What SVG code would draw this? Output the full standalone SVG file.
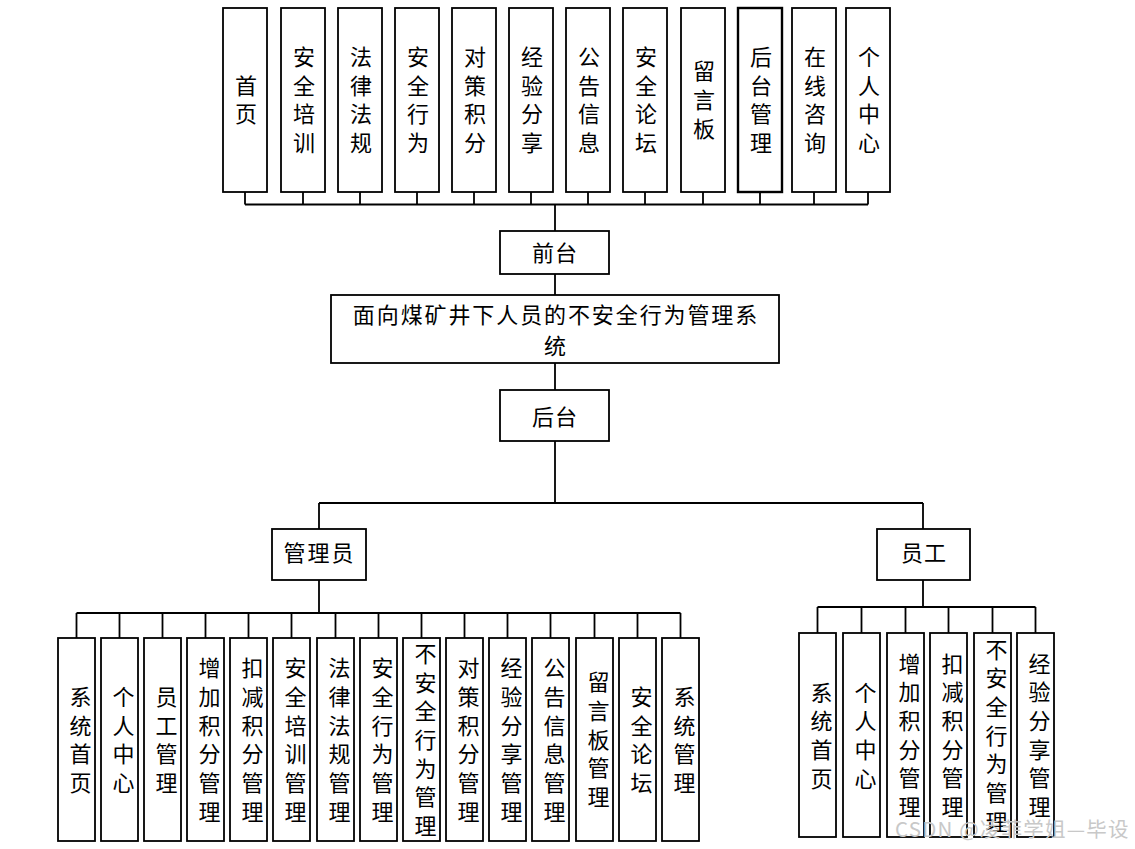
<svg xmlns="http://www.w3.org/2000/svg" width="1135" height="849" viewBox="0 0 1135 849">
<style>
rect{fill:#fff;stroke:#000;stroke-width:1.8}
text{font-family:"Noto Sans CJK SC","Noto Sans",sans-serif;font-size:22px;fill:#000;text-anchor:middle}
.c{fill:none;stroke:#000;stroke-width:1.8}
.wm{font-size:20.5px;fill:#c8c8c8;text-anchor:start;letter-spacing:1.2px}
</style>
<rect x="0" y="0" width="1135" height="849" style="stroke:none"/>
<g id="connectors">
<path class="c" d="M245,192V204.5M303,192V204.5M360,192V204.5M417,192V204.5M474,192V204.5M531,192V204.5M588,192V204.5M645,192V204.5M703,192V204.5M760,192V204.5M814,192V204.5M868,192V204.5M245,204.5H868M555,204.5V231"/>
<path class="c" d="M555,274V295M555,363V390M555,441V503M319,503H923M319,503V529M923,503V529"/>
<path class="c" d="M319,580V613M76.5,613H680.5M76.5,613V638M119.5,613V638M162.5,613V638M205.5,613V638M248.5,613V638M291.5,613V638M335.5,613V638M378.5,613V638M421.5,613V638M464.5,613V638M507.5,613V638M550.5,613V638M594.5,613V638M637.5,613V638M680.5,613V638"/>
<path class="c" d="M923,580V607M817.5,607H1035.5M817.5,607V633M861.5,607V633M905.5,607V633M948.5,607V633M992.5,607V633M1035.5,607V633"/>
</g>
<g id="top-1"><rect x="223" y="8" width="44" height="184"/><text x="246"><tspan x="246" y="93.6">首</tspan><tspan x="246" y="122.4">页</tspan></text></g>
<g id="top-2"><rect x="281" y="8" width="44" height="184"/><text><tspan x="304" y="65">安</tspan><tspan x="304" y="93.7">全</tspan><tspan x="304" y="122.3">培</tspan><tspan x="304" y="151">训</tspan></text></g>
<g id="top-3"><rect x="338" y="8" width="44" height="184"/><text><tspan x="361" y="65">法</tspan><tspan x="361" y="93.7">律</tspan><tspan x="361" y="122.3">法</tspan><tspan x="361" y="151">规</tspan></text></g>
<g id="top-4"><rect x="395" y="8" width="44" height="184"/><text><tspan x="418" y="65">安</tspan><tspan x="418" y="93.7">全</tspan><tspan x="418" y="122.3">行</tspan><tspan x="418" y="151">为</tspan></text></g>
<g id="top-5"><rect x="452" y="8" width="44" height="184"/><text><tspan x="475" y="65">对</tspan><tspan x="475" y="93.7">策</tspan><tspan x="475" y="122.3">积</tspan><tspan x="475" y="151">分</tspan></text></g>
<g id="top-6"><rect x="509" y="8" width="44" height="184"/><text><tspan x="532" y="65">经</tspan><tspan x="532" y="93.7">验</tspan><tspan x="532" y="122.3">分</tspan><tspan x="532" y="151">享</tspan></text></g>
<g id="top-7"><rect x="566" y="8" width="44" height="184"/><text><tspan x="589" y="65">公</tspan><tspan x="589" y="93.7">告</tspan><tspan x="589" y="122.3">信</tspan><tspan x="589" y="151">息</tspan></text></g>
<g id="top-8"><rect x="623" y="8" width="44" height="184"/><text><tspan x="646" y="65">安</tspan><tspan x="646" y="93.7">全</tspan><tspan x="646" y="122.3">论</tspan><tspan x="646" y="151">坛</tspan></text></g>
<g id="top-9"><rect x="681" y="8" width="44" height="184"/><text><tspan x="704" y="79.3">留</tspan><tspan x="704" y="108">言</tspan><tspan x="704" y="136.7">板</tspan></text></g>
<g id="top-10"><rect x="738" y="8" width="44" height="184" style="stroke-width:2.4"/><text><tspan x="761" y="65">后</tspan><tspan x="761" y="93.7">台</tspan><tspan x="761" y="122.3">管</tspan><tspan x="761" y="151">理</tspan></text></g>
<g id="top-11"><rect x="792" y="8" width="44" height="184"/><text><tspan x="815" y="65">在</tspan><tspan x="815" y="93.7">线</tspan><tspan x="815" y="122.3">咨</tspan><tspan x="815" y="151">询</tspan></text></g>
<g id="top-12"><rect x="846" y="8" width="44" height="184"/><text><tspan x="869" y="65">个</tspan><tspan x="869" y="93.7">人</tspan><tspan x="869" y="122.3">中</tspan><tspan x="869" y="151">心</tspan></text></g>
<g id="qiantai"><rect x="500" y="231" width="109" height="43"/><text x="555" y="261" style="letter-spacing:1px">前台</text></g>
<g id="system"><rect x="331" y="295" width="448" height="68"/><text x="556" y="323" style="letter-spacing:1.9px">面向煤矿井下人员的不安全行为管理系</text><text x="555" y="353.5">统</text></g>
<g id="houtai"><rect x="500" y="390" width="109" height="51"/><text x="555" y="425" style="letter-spacing:1px">后台</text></g>
<g id="admin"><rect x="272" y="529" width="94" height="51"/><text x="319.5" y="561" style="letter-spacing:2px">管理员</text></g>
<g id="staff"><rect x="877" y="529" width="93" height="51"/><text x="924" y="561" style="letter-spacing:1px">员工</text></g>
<g id="a1"><rect x="58" y="638" width="37" height="203"/><text><tspan x="80.5" y="705">系</tspan><tspan x="80.5" y="733.6">统</tspan><tspan x="80.5" y="762.3">首</tspan><tspan x="80.5" y="791">页</tspan></text></g>
<g id="a2"><rect x="101" y="638" width="37" height="203"/><text><tspan x="123.5" y="705">个</tspan><tspan x="123.5" y="733.6">人</tspan><tspan x="123.5" y="762.3">中</tspan><tspan x="123.5" y="791">心</tspan></text></g>
<g id="a3"><rect x="144" y="638" width="37" height="203"/><text><tspan x="166.5" y="705">员</tspan><tspan x="166.5" y="733.6">工</tspan><tspan x="166.5" y="762.3">管</tspan><tspan x="166.5" y="791">理</tspan></text></g>
<g id="a4"><rect x="187" y="638" width="37" height="203"/><text><tspan x="209.5" y="676">增</tspan><tspan x="209.5" y="704.8">加</tspan><tspan x="209.5" y="733.5">积</tspan><tspan x="209.5" y="762.2">分</tspan><tspan x="209.5" y="790.9">管</tspan><tspan x="209.5" y="819.6">理</tspan></text></g>
<g id="a5"><rect x="230" y="638" width="37" height="203"/><text><tspan x="252.5" y="676">扣</tspan><tspan x="252.5" y="704.8">减</tspan><tspan x="252.5" y="733.5">积</tspan><tspan x="252.5" y="762.2">分</tspan><tspan x="252.5" y="790.9">管</tspan><tspan x="252.5" y="819.6">理</tspan></text></g>
<g id="a6"><rect x="273" y="638" width="37" height="203"/><text><tspan x="295.5" y="676">安</tspan><tspan x="295.5" y="704.8">全</tspan><tspan x="295.5" y="733.5">培</tspan><tspan x="295.5" y="762.2">训</tspan><tspan x="295.5" y="790.9">管</tspan><tspan x="295.5" y="819.6">理</tspan></text></g>
<g id="a7"><rect x="317" y="638" width="37" height="203"/><text><tspan x="339.5" y="676">法</tspan><tspan x="339.5" y="704.8">律</tspan><tspan x="339.5" y="733.5">法</tspan><tspan x="339.5" y="762.2">规</tspan><tspan x="339.5" y="790.9">管</tspan><tspan x="339.5" y="819.6">理</tspan></text></g>
<g id="a8"><rect x="360" y="638" width="37" height="203"/><text><tspan x="382.5" y="676">安</tspan><tspan x="382.5" y="704.8">全</tspan><tspan x="382.5" y="733.5">行</tspan><tspan x="382.5" y="762.2">为</tspan><tspan x="382.5" y="790.9">管</tspan><tspan x="382.5" y="819.6">理</tspan></text></g>
<g id="a9"><rect x="403" y="638" width="37" height="203"/><text><tspan x="425.5" y="662">不</tspan><tspan x="425.5" y="690.6">安</tspan><tspan x="425.5" y="719.3">全</tspan><tspan x="425.5" y="748">行</tspan><tspan x="425.5" y="776.7">为</tspan><tspan x="425.5" y="805.4">管</tspan><tspan x="425.5" y="834">理</tspan></text></g>
<g id="a10"><rect x="446" y="638" width="37" height="203"/><text><tspan x="468.5" y="676">对</tspan><tspan x="468.5" y="704.8">策</tspan><tspan x="468.5" y="733.5">积</tspan><tspan x="468.5" y="762.2">分</tspan><tspan x="468.5" y="790.9">管</tspan><tspan x="468.5" y="819.6">理</tspan></text></g>
<g id="a11"><rect x="489" y="638" width="37" height="203"/><text><tspan x="511.5" y="676">经</tspan><tspan x="511.5" y="704.8">验</tspan><tspan x="511.5" y="733.5">分</tspan><tspan x="511.5" y="762.2">享</tspan><tspan x="511.5" y="790.9">管</tspan><tspan x="511.5" y="819.6">理</tspan></text></g>
<g id="a12"><rect x="532" y="638" width="37" height="203"/><text><tspan x="554.5" y="676">公</tspan><tspan x="554.5" y="704.8">告</tspan><tspan x="554.5" y="733.5">信</tspan><tspan x="554.5" y="762.2">息</tspan><tspan x="554.5" y="790.9">管</tspan><tspan x="554.5" y="819.6">理</tspan></text></g>
<g id="a13"><rect x="576" y="638" width="37" height="203"/><text><tspan x="598.5" y="690.2">留</tspan><tspan x="598.5" y="718.9">言</tspan><tspan x="598.5" y="747.6">板</tspan><tspan x="598.5" y="776.3">管</tspan><tspan x="598.5" y="805">理</tspan></text></g>
<g id="a14"><rect x="619" y="638" width="37" height="203"/><text><tspan x="641.5" y="705">安</tspan><tspan x="641.5" y="733.6">全</tspan><tspan x="641.5" y="762.3">论</tspan><tspan x="641.5" y="791">坛</tspan></text></g>
<g id="a15"><rect x="662" y="638" width="37" height="203"/><text><tspan x="684.5" y="705">系</tspan><tspan x="684.5" y="733.6">统</tspan><tspan x="684.5" y="762.3">管</tspan><tspan x="684.5" y="791">理</tspan></text></g>
<g id="s1"><rect x="799" y="633" width="37" height="204"/><text><tspan x="821.5" y="700.5">系</tspan><tspan x="821.5" y="729.1">统</tspan><tspan x="821.5" y="757.8">首</tspan><tspan x="821.5" y="786.5">页</tspan></text></g>
<g id="s2"><rect x="843" y="633" width="37" height="204"/><text><tspan x="865.5" y="700.5">个</tspan><tspan x="865.5" y="729.1">人</tspan><tspan x="865.5" y="757.8">中</tspan><tspan x="865.5" y="786.5">心</tspan></text></g>
<g id="s3"><rect x="887" y="633" width="37" height="204"/><text><tspan x="909.5" y="671.5">增</tspan><tspan x="909.5" y="700.3">加</tspan><tspan x="909.5" y="729">积</tspan><tspan x="909.5" y="757.7">分</tspan><tspan x="909.5" y="786.4">管</tspan><tspan x="909.5" y="815.1">理</tspan></text></g>
<g id="s4"><rect x="930" y="633" width="37" height="204"/><text><tspan x="952.5" y="671.5">扣</tspan><tspan x="952.5" y="700.3">减</tspan><tspan x="952.5" y="729">积</tspan><tspan x="952.5" y="757.7">分</tspan><tspan x="952.5" y="786.4">管</tspan><tspan x="952.5" y="815.1">理</tspan></text></g>
<g id="s5"><rect x="974" y="633" width="37" height="204"/><text><tspan x="996.5" y="657.5">不</tspan><tspan x="996.5" y="686.1">安</tspan><tspan x="996.5" y="714.8">全</tspan><tspan x="996.5" y="743.5">行</tspan><tspan x="996.5" y="772.2">为</tspan><tspan x="996.5" y="800.9">管</tspan><tspan x="996.5" y="829.5">理</tspan></text></g>
<g id="s6"><rect x="1017" y="633" width="37" height="204"/><text><tspan x="1039.5" y="671.5">经</tspan><tspan x="1039.5" y="700.3">验</tspan><tspan x="1039.5" y="729">分</tspan><tspan x="1039.5" y="757.7">享</tspan><tspan x="1039.5" y="786.4">管</tspan><tspan x="1039.5" y="815.1">理</tspan></text></g>
<text class="wm" x="895" y="837">CSDN @凌菲学姐—毕设</text>
</svg>
